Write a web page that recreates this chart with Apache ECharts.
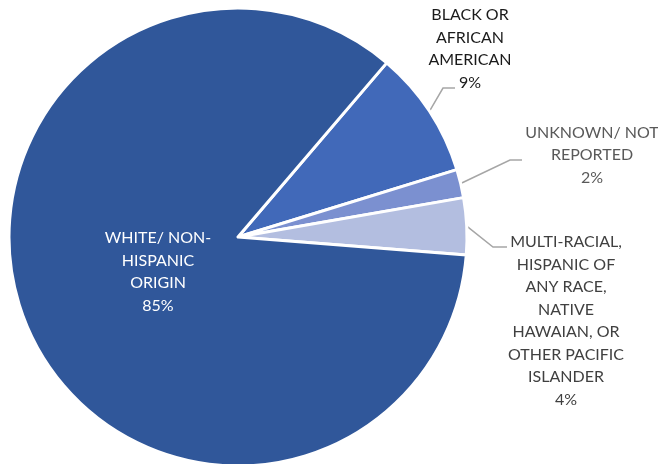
<!DOCTYPE html>
<html><head><meta charset="utf-8">
<script src="https://cdn.jsdelivr.net/npm/echarts@6/dist/echarts.min.js"></script>
<style>html,body{margin:0;padding:0;background:#fff}#c{width:658px;height:464px}</style>
</head><body><div id="c"></div>
<script>
var categories = ['BLACK OR\nAFRICAN\nAMERICAN', 'UNKNOWN/ NOT\nREPORTED', 'MULTI-RACIAL,\nHISPANIC OF\nANY RACE,\nNATIVE\nHAWAIAN, OR\nOTHER PACIFIC\nISLANDER', 'WHITE/ NON-\nHISPANIC\nORIGIN'];
var values = [9, 2, 4, 85];
var colors = ['#4169B9', '#7B90D0', '#B3BEE0', '#30579A'];
var labelColors = ['#1a1a1a', '#595959', '#404040', '#ffffff'];

var chart = echarts.init(document.getElementById('c'), null, {renderer: 'canvas'});
var data = categories.map(function (c, i) {
  var d = {name: c, value: values[i], itemStyle: {color: colors[i]},
    label: {color: labelColors[i]}};
  if (i === 3) {
    d.label = {position: 'inside', color: '#fff'};
    d.labelLine = {show: false};
  }
  return d;
});
// label placement (centre of text block) and leader-line bends
var labelPos = [[470, 49], [592, 155], [566, 321], [158, 272]];
var bends = [[[443, 88], [455, 88]], [[510, 160], [522, 160]], [[493, 247], [507, 247]]];
chart.setOption({
  animation: false,
  series: [{
    type: 'pie',
    center: [238, 237],
    radius: [0, 229],
    startAngle: 49.5,
    clockwise: true,
    avoidLabelOverlap: false,
    itemStyle: {borderColor: '#fff', borderWidth: 3},
    label: {
      show: true,
      formatter: function (p) { return p.name + '\n' + p.value + '%'; },
      fontFamily: 'Lato, "Noto Sans", sans-serif',
      fontSize: 16,
      lineHeight: 22.5,
      align: 'center'
    },
    labelLine: {show: true, length: 14, length2: 12, lineStyle: {color: '#a6a6a6', width: 1.5}},
    labelLayout: function (params) {
      var i = params.dataIndex;
      var r = {x: labelPos[i][0], y: labelPos[i][1], align: 'center', verticalAlign: 'middle'};
      if (i < 3 && params.labelLinePoints) {
        r.labelLinePoints = [params.labelLinePoints[0], bends[i][0], bends[i][1]];
      }
      return r;
    },
    data: data
  }]
});
</script></body></html>
